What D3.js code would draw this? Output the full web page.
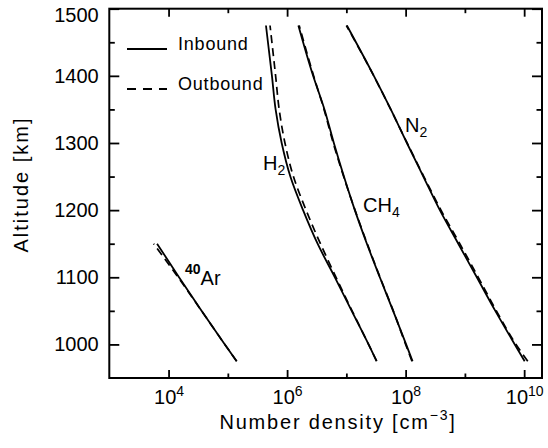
<!DOCTYPE html>
<html>
<head>
<meta charset="utf-8">
<script src="https://cdn.jsdelivr.net/npm/d3@7"></script>
<style>
  html, body { margin: 0; padding: 0; background: #fff; }
  svg { display: block; }
  text { font-family: "Liberation Sans", Arial, Helvetica, sans-serif; fill: #000; }
</style>
</head>
<body>
<svg id="chart" width="548" height="448"></svg>
<script>
// Altitude grid [km] shared by the H2, CH4 and N2 density profiles
const altitudes = [975, 1000, 1050, 1100, 1150, 1200, 1250, 1300, 1350, 1400, 1475];

// Number densities [cm^-3], inbound and outbound legs
const n2Inbound   = [1.02e10, 6.95e9, 3.26e9, 1.59e9, 7.74e8, 3.78e8, 1.99e8, 1.05e8, 5.62e7, 2.91e7, 1.02e7];
const n2Outbound  = [1.15e10, 7.3e9, 3.4e9, 1.68e9, 8.2e8, 3.95e8, 2.03e8, 1.06e8, 5.6e7, 2.9e7, 1.0e7];
const ch4Inbound  = [1.31e8, 1.02e8, 6.15e7, 3.67e7, 2.22e7, 1.39e7, 9.1e6, 6.15e6, 4.27e6, 2.75e6, 1.55e6];
const ch4Outbound = [1.28e8, 1.0e8, 6.2e7, 3.7e7, 2.25e7, 1.4e7, 9.0e6, 6.0e6, 4.2e6, 2.8e6, 1.6e6];
const h2Inbound   = [3.24e7, 2.37e7, 1.23e7, 6.4e6, 3.27e6, 1.86e6, 1.135e6, 8.1e5, 6.4e5, 5.55e5, 4.4e5];
const h2Outbound  = [3.24e7, 2.37e7, 1.25e7, 6.7e6, 3.65e6, 2.09e6, 1.28e6, 9.2e5, 7.35e5, 6.4e5, 5.15e5];

// 40Ar is only retrieved below 1150 km
const arAltitudes = [975, 1000, 1050, 1100, 1150];
const arInbound   = [1.41e5, 8.9e4, 3.6e4, 1.5e4, 6.4e3];
const arOutbound  = [1.41e5, 8.9e4, 3.6e4, 1.45e4, 5.6e3];

// Axis ticks
const altTicks = [1000, 1100, 1200, 1300, 1400, 1500];
const altMinorTicks = [1050, 1150, 1250, 1350, 1450];
const densityTicks = [1e4, 1e6, 1e8, 1e10];
const densityMinorTicks = [1e5, 1e7, 1e9];

const plotLeft = 109.3, plotRight = 542, plotTop = 8.7, plotBottom = 378;

const svg = d3.select("#chart");

const x = d3.scaleLog().domain([1e3, 2e10]).range([plotLeft, plotRight]);
const y = d3.scaleLinear().domain([950, 1500]).range([plotBottom, plotTop]);

const line = d3.line()
  .x(d => x(d.n))
  .y(d => y(d.alt))
  .curve(d3.curveMonotoneY);

const profiles = [
  { alts: altitudes, inbound: h2Inbound, outbound: h2Outbound },
  { alts: altitudes, inbound: ch4Inbound, outbound: ch4Outbound },
  { alts: altitudes, inbound: n2Inbound, outbound: n2Outbound },
  { alts: arAltitudes, inbound: arInbound, outbound: arOutbound }
];

const curves = svg.append("g").attr("fill", "none").attr("stroke", "#000");
profiles.forEach(p => {
  const pts = key => p.alts.map((a, i) => ({ alt: a, n: p[key][i] }));
  curves.append("path")
    .attr("d", line(pts("outbound")))
    .attr("stroke-width", 1.7)
    .attr("stroke-dasharray", "8,5");
  curves.append("path")
    .attr("d", line(pts("inbound")))
    .attr("stroke-width", 1.8);
});

// Axes: ticks point into the plot on all four sides
function styleAxis(g) {
  g.select(".domain").remove();
  g.selectAll(".tick line").attr("stroke-width", 1.8);
}

const gLeft = svg.append("g").attr("transform", `translate(${plotLeft},0)`)
  .call(d3.axisLeft(y).tickValues(altTicks).tickFormat(d3.format("d"))
    .tickSizeInner(-10).tickSizeOuter(0).tickPadding(10.6))
  .call(styleAxis);
gLeft.selectAll(".tick text").attr("font-size", 20);
gLeft.selectAll(".tick text").filter(d => d === 1500).attr("y", 6);

svg.append("g").attr("transform", `translate(${plotLeft},0)`)
  .call(d3.axisLeft(y).tickValues(altMinorTicks).tickSizeInner(-5.5).tickSizeOuter(0).tickFormat(() => ""))
  .call(styleAxis);

svg.append("g").attr("transform", `translate(${plotRight},0)`)
  .call(d3.axisRight(y).tickValues(altTicks).tickSizeInner(-10).tickSizeOuter(0).tickFormat(() => ""))
  .call(styleAxis);
svg.append("g").attr("transform", `translate(${plotRight},0)`)
  .call(d3.axisRight(y).tickValues(altMinorTicks).tickSizeInner(-5.5).tickSizeOuter(0).tickFormat(() => ""))
  .call(styleAxis);

const gBottom = svg.append("g").attr("transform", `translate(0,${plotBottom})`)
  .call(d3.axisBottom(x).tickValues(densityTicks).tickSizeInner(-8).tickSizeOuter(0).tickFormat(() => ""))
  .call(styleAxis);
gBottom.selectAll(".tick text").each(function(d) {
  const t = d3.select(this).attr("y", 26).attr("dy", null).attr("font-size", 20).text(null);
  t.append("tspan").text("10");
  t.append("tspan").attr("font-size", 14).attr("dy", -8).text(Math.round(Math.log10(d)));
});
svg.append("g").attr("transform", `translate(0,${plotBottom})`)
  .call(d3.axisBottom(x).tickValues(densityMinorTicks).tickSizeInner(-4.5).tickSizeOuter(0).tickFormat(() => ""))
  .call(styleAxis);

svg.append("g").attr("transform", `translate(0,${plotTop})`)
  .call(d3.axisTop(x).tickValues(densityTicks).tickSizeInner(-8).tickSizeOuter(0).tickFormat(() => ""))
  .call(styleAxis);
svg.append("g").attr("transform", `translate(0,${plotTop})`)
  .call(d3.axisTop(x).tickValues(densityMinorTicks).tickSizeInner(-4.5).tickSizeOuter(0).tickFormat(() => ""))
  .call(styleAxis);

// Plot frame
svg.append("rect")
  .attr("x", plotLeft).attr("y", plotTop)
  .attr("width", plotRight - plotLeft).attr("height", plotBottom - plotTop)
  .attr("fill", "none").attr("stroke", "#000").attr("stroke-width", 2);

// Axis titles
const xTitle = svg.append("text")
  .attr("x", 338).attr("y", 429)
  .attr("text-anchor", "middle").attr("font-size", 20).attr("letter-spacing", 1.8);
xTitle.append("tspan").text("Number density [cm");
xTitle.append("tspan").attr("font-size", 14).attr("dy", -9).text("\u22123");
xTitle.append("tspan").attr("dy", 9).text("]");

svg.append("text")
  .attr("transform", "translate(28,184.5) rotate(-90)")
  .attr("text-anchor", "middle").attr("font-size", 20).attr("letter-spacing", 2)
  .text("Altitude [km]");

// Legend
const legend = svg.append("g");
legend.append("line").attr("x1", 127).attr("x2", 167).attr("y1", 49).attr("y2", 49)
  .attr("stroke", "#000").attr("stroke-width", 1.8);
legend.append("text").attr("x", 178).attr("y", 50).attr("font-size", 18).attr("letter-spacing", 0.8).text("Inbound");
legend.append("line").attr("x1", 127).attr("x2", 167).attr("y1", 89).attr("y2", 89)
  .attr("stroke", "#000").attr("stroke-width", 1.8).attr("stroke-dasharray", "9,7");
legend.append("text").attr("x", 178).attr("y", 90).attr("font-size", 18).attr("letter-spacing", 0.8).text("Outbound");

// Species labels
function speciesLabel(xp, yp, main, sub) {
  const t = svg.append("text").attr("x", xp).attr("y", yp).attr("font-size", 20);
  t.append("tspan").text(main);
  t.append("tspan").attr("font-size", 14).attr("dy", 5).text(sub);
}
speciesLabel(263, 170, "H", "2");
speciesLabel(363, 212, "CH", "4");
speciesLabel(405, 132, "N", "2");

const arLabel = svg.append("text").attr("x", 185).attr("y", 274);
arLabel.append("tspan").attr("font-size", 14).attr("font-weight", "bold").text("40");
arLabel.append("tspan").attr("font-size", 20).attr("dy", 11).text("Ar");
</script>
</body>
</html>
